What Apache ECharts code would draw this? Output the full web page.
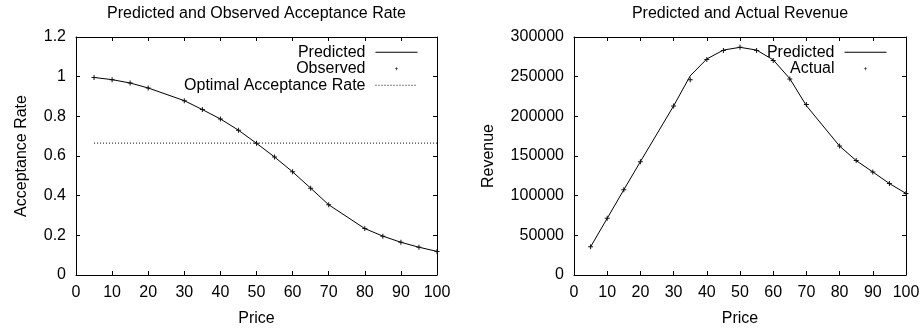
<!DOCTYPE html>
<html>
<head>
<meta charset="utf-8">
<script src="https://cdn.jsdelivr.net/npm/echarts@6/dist/echarts.min.js"></script>
<style>
  html, body { margin: 0; padding: 0; background: #fff; }
  #chart { width: 922px; height: 328px; }
</style>
</head>
<body>
<div id="chart"></div>
<script>
// Price points (same for both panels)
const price = [5, 10, 15, 20, 30, 35, 40, 45, 50, 55, 60, 65, 70, 80, 85, 90, 95, 100];

// Acceptance rate panel
const predictedRate = [0.996, 0.985, 0.968, 0.943, 0.879, 0.834, 0.787, 0.730, 0.664, 0.595, 0.520, 0.438, 0.354, 0.234, 0.196, 0.165, 0.140, 0.119];
const observedRate  = [0.996, 0.985, 0.968, 0.943, 0.879, 0.834, 0.787, 0.730, 0.664, 0.595, 0.520, 0.438, 0.354, 0.234, 0.196, 0.165, 0.140, 0.119];
const optimalRate = 0.665;
const optimalSpan = [5, 100];

// Revenue panel
const predictedRevenue = [35500, 71400, 107400, 142900, 213100, 251000, 272300, 283500, 287000, 283500, 271200, 247500, 213400, 162500, 144200, 129900, 115300, 102800];
const actualRevenue    = [35500, 71500, 107400, 142900, 213100, 246000, 271500, 282900, 287000, 282900, 270500, 247000, 215000, 162500, 144200, 129900, 115300, 102800];

// Axis ticks
const xTicks = { min: 0, max: 100, interval: 10 };
const rateTicks = { min: 0, max: 1.2, interval: 0.2 };
const revenueTicks = { min: 0, max: 300000, interval: 50000 };

const FONT = 'Liberation Sans, Arial, sans-serif';
const INK = '#000';
const plus = 'path://M2,0H3V2H5V3H3V5H2V3H0V2H2Z';

const pairs = (xs, ys) => xs.map((x, i) => [x, ys[i]]);

function boxAxis(base, position, showLabel, grid) {
  return Object.assign({
    type: 'value',
    gridIndex: grid,
    position: position,
    axisLine: { show: true, onZero: false, lineStyle: { color: INK, width: 1 } },
    axisTick: { show: true, inside: true, length: 4, lineStyle: { color: INK, width: 1 } },
    axisLabel: { show: showLabel, color: INK, fontSize: 16, fontFamily: FONT },
    splitLine: { show: false }
  }, base);
}

const lineSeries = (name, data, xi, yi) => ({
  name, type: 'line', data, xAxisIndex: xi, yAxisIndex: yi,
  symbol: 'none', silent: true, animation: false,
  lineStyle: { color: INK, width: 1 },
  itemStyle: { color: INK }
});

const pointSeries = (name, data, xi, yi) => ({
  name, type: 'line', data, xAxisIndex: xi, yAxisIndex: yi,
  symbol: plus, symbolSize: 5, showSymbol: true, animation: false,
  lineStyle: { opacity: 0, width: 0 },
  itemStyle: { color: '#111' },
  z: 3
});

const legendText = { color: INK, fontSize: 16, fontFamily: FONT, lineHeight: 16.5, padding: [0, 5, 0, 0] };
const solidKey = { itemStyle: { opacity: 0 }, lineStyle: { width: 1, color: INK, type: 'solid' } };
const dottedKey = { itemStyle: { opacity: 0 }, lineStyle: { width: 1, color: INK, type: [1, 2] } };
const pointKey = { lineStyle: { opacity: 0 } };

const option = {
  animation: false,
  textStyle: { fontFamily: FONT },
  title: [
    { text: 'Predicted and Observed Acceptance Rate', left: 256.5, top: 6, textAlign: 'center', padding: 0,
      textStyle: { color: INK, fontSize: 16, fontWeight: 'normal', fontFamily: FONT } },
    { text: 'Predicted and Actual Revenue', left: 740, top: 6, textAlign: 'center', padding: 0,
      textStyle: { color: INK, fontSize: 16, fontWeight: 'normal', fontFamily: FONT } }
  ],
  legend: [
    {
      orient: 'vertical', align: 'right', right: 504, top: 44, padding: 0,
      itemWidth: 42, itemHeight: 4, itemGap: 0,
      textStyle: legendText,
      data: [
        Object.assign({ name: 'Predicted' }, solidKey),
        Object.assign({ name: 'Observed' }, pointKey),
        Object.assign({ name: 'Optimal Acceptance Rate' }, dottedKey)
      ]
    },
    {
      orient: 'vertical', align: 'right', right: 35, top: 44, padding: 0,
      itemWidth: 42, itemHeight: 4, itemGap: 0,
      textStyle: legendText,
      data: [
        Object.assign({ name: 'Predicted' }, solidKey),
        Object.assign({ name: 'Actual' }, pointKey)
      ]
    }
  ],
  grid: [
    { left: 76, top: 37, width: 361, height: 238, outerBoundsMode: 'none', containLabel: false },
    { left: 574, top: 37, width: 332, height: 238, outerBoundsMode: 'none', containLabel: false }
  ],
  xAxis: [
    boxAxis(Object.assign({ name: 'Price', nameLocation: 'middle', nameGap: 36,
      nameTextStyle: { color: INK, fontSize: 16, fontFamily: FONT } }, xTicks), 'bottom', true, 0),
    boxAxis(Object.assign({}, xTicks), 'top', false, 0),
    boxAxis(Object.assign({ name: 'Price', nameLocation: 'middle', nameGap: 36,
      nameTextStyle: { color: INK, fontSize: 16, fontFamily: FONT } }, xTicks), 'bottom', true, 1),
    boxAxis(Object.assign({}, xTicks), 'top', false, 1)
  ],
  yAxis: [
    boxAxis(Object.assign({ name: 'Acceptance Rate', nameLocation: 'middle', nameGap: 46,
      nameTextStyle: { color: INK, fontSize: 16, fontFamily: FONT } }, rateTicks), 'left', true, 0),
    boxAxis(Object.assign({}, rateTicks), 'right', false, 0),
    boxAxis(Object.assign({ name: 'Revenue', nameLocation: 'middle', nameGap: 77,
      nameTextStyle: { color: INK, fontSize: 16, fontFamily: FONT } }, revenueTicks), 'left', true, 1),
    boxAxis(Object.assign({}, revenueTicks), 'right', false, 1)
  ],
  series: [
    lineSeries('Predicted', pairs(price, predictedRate), 0, 0),
    pointSeries('Observed', pairs(price, observedRate), 0, 0),
    Object.assign(lineSeries('Optimal Acceptance Rate', optimalSpan.map(x => [x, optimalRate]), 0, 0),
      { lineStyle: { color: INK, width: 1, type: [1, 2] } }),
    lineSeries('Predicted', pairs(price, predictedRevenue), 2, 2),
    pointSeries('Actual', pairs(price, actualRevenue), 2, 2)
  ]
};

// Label margins: x labels sit just under the frame, y labels 10px left of it
option.xAxis.forEach(a => { a.axisLabel.margin = 10; });
option.yAxis.forEach(a => { a.axisLabel.margin = 10; a.axisLabel.formatter = v => String(v); });

const chart = echarts.init(document.getElementById('chart'), null, { renderer: 'canvas' });
chart.setOption(option);
</script>
</body>
</html>
